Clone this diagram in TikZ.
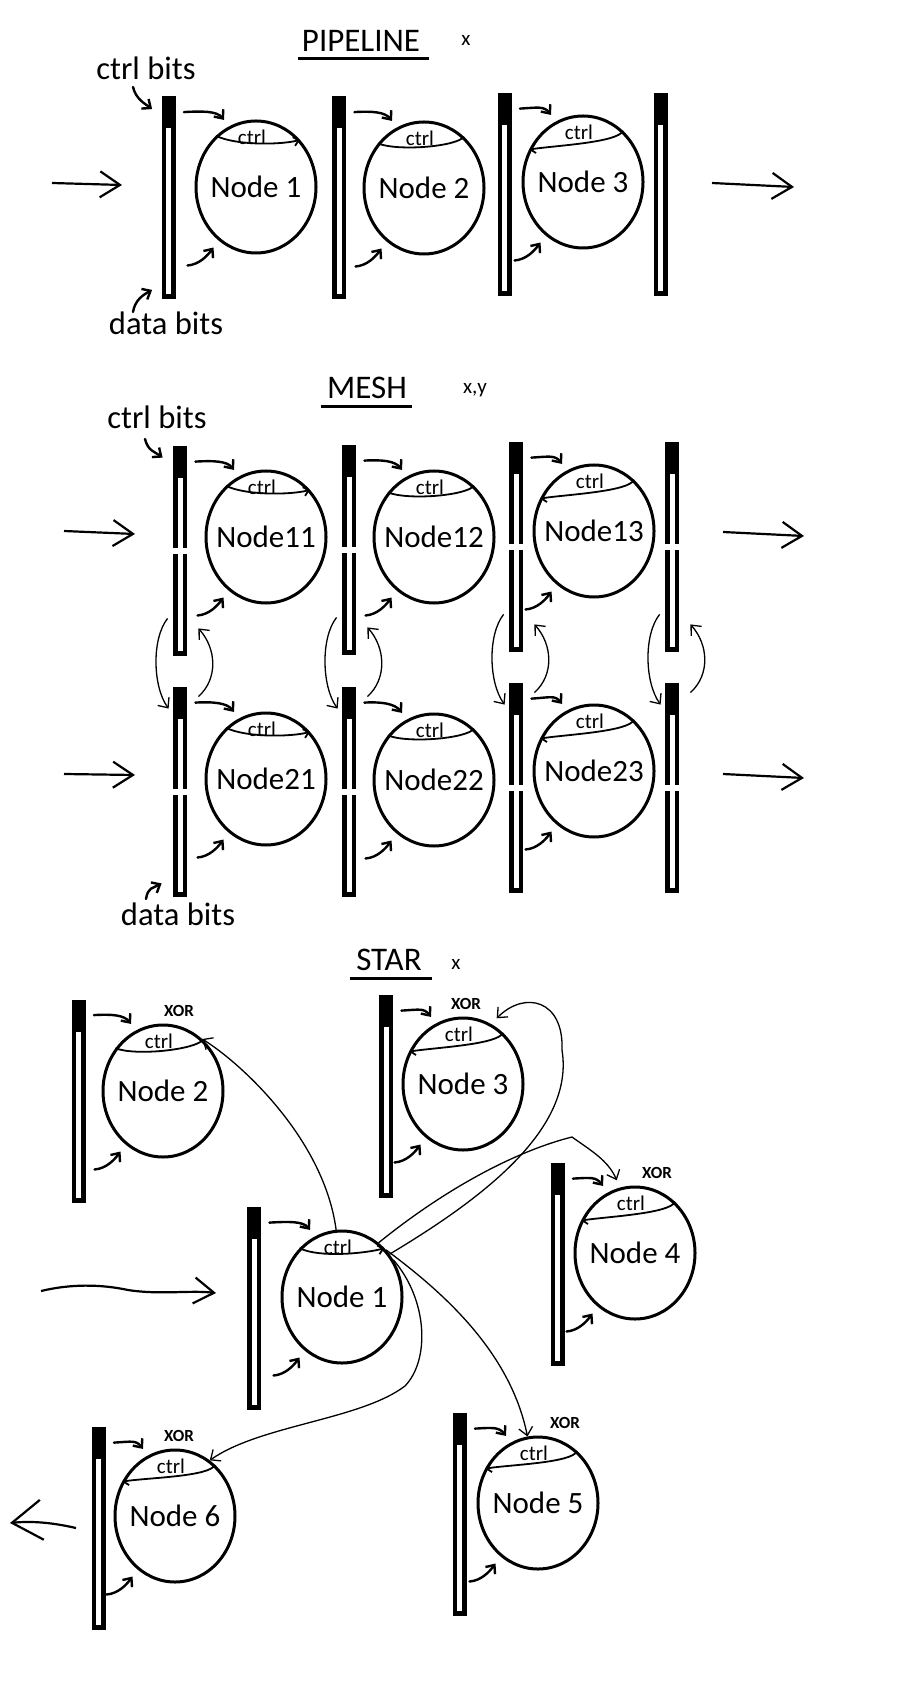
\documentclass[tikz,border=0pt]{standalone}
\usepackage{fontspec}
\setmainfont{Carlito}
\usetikzlibrary{shapes.geometric, arrows.meta}

\newcommand{\fsz}[1]{\fontsize{#1pt}{#1pt}\selectfont}
% one register bar + its node
\newcommand{\drawunit}[8]{%
  \node[#2] (#1b) at (#3) {};
  \node[unit] (#1) at (#4) {#5};
  \node[ctrltxt] (#1c) at ([shift={(-4,-50)}]#1.center) {ctrl};
  \draw[#8] (#1.#6) to (#1.#7);
  \draw[hand] ([shift={(8,16)}]#1b.north east) .. controls +(18,-1) and +(-7,-9) .. ([shift={(-4,-7)}]#1.115);
  \draw[hand] ([shift={(-31,25)}]#1.235) .. controls +(12,-1) and +(-6,8) .. ([shift={(-5,7)}]#1.235);
}

\tikzset{
  unit/.style={draw, ellipse, line width=1.5pt, minimum width=60pt, minimum height=66pt,
    inner xsep=-10pt, inner ysep=0pt, font=\fsz{15.5}},
  barbase/.style={fill=black, minimum width=7pt, inner sep=0pt},
  regbar/.style={barbase, minimum height=101.5pt,
    path picture={\fill[white] ([xshift=-1.25pt,yshift=2.5pt]path picture bounding box.south)
      rectangle ([xshift=1.25pt,yshift=-16pt]path picture bounding box.north);}},
  splitbar/.style={barbase, minimum height=105pt,
    path picture={\fill[white] ([xshift=-1.25pt,yshift=2.5pt]path picture bounding box.south)
      rectangle ([xshift=1.25pt,yshift=-16pt]path picture bounding box.north);
      \fill[white] ([yshift=-1.6pt]path picture bounding box.west)
      rectangle ([yshift=1.6pt]path picture bounding box.east);}},
  ctrltxt/.style={font=\fsz{10.5}, inner sep=0pt},
  title/.style={font=\fsz{16.5}, inner sep=1pt},
  note/.style={font=\fsz{16.3}, inner sep=0pt},
  coord/.style={font=\fsz{10.5}, inner sep=0pt},
  xorlbl/.style={font=\bfseries\fsz{8.5}, inner sep=0pt},
  hand/.style={line width=1.2pt, line cap=round, -{Straight Barb[length=3.5pt,width=6pt]}},
  wire/.style={line width=0.65pt, -{Straight Barb[length=4pt,width=7pt]}},
  flow/.style={line width=1.1pt, -{Straight Barb[length=10pt,width=13pt]}},
  ctrlR/.style={line width=0.9pt, -{Straight Barb[length=2.5pt,width=4.5pt]},
    to path={.. controls +(20,10) and +(-18,5) .. (\tikztotarget) \tikztonodes}},
  ctrlN/.style={line width=0.9pt, -,
    to path={.. controls +(20,8) and +(-8,10) .. (\tikztotarget) \tikztonodes}},
  ctrlL/.style={line width=0.9pt, -{Straight Barb[length=2.5pt,width=4.5pt]},
    to path={.. controls +(-5,12) and +(25,-4) .. (\tikztotarget) \tikztonodes}},
  underl/.style={line width=1.5pt}
}

\begin{document}
\begin{tikzpicture}[x=0.5pt, y=-0.5pt]
  \path[fill=white, use as bounding box] (0,0) rectangle (914,1689);

  % pipeline
  \node[title] (pipe) at (361,41) {PIPELINE};
  \draw[underl] ([shift={(-2,5)}]pipe.south west) -- ([shift={(7,5)}]pipe.south east);
  \node[coord] (pipex) at (466,40) {x};
  \drawunit{p1}{regbar}{168.5,198}{256,187}{Node 1}{128}{47}{ctrlR}
  \drawunit{p2}{regbar}{339,198}{424,188}{Node 2}{136}{52}{ctrlN}
  \drawunit{p3}{regbar}{504.5,194.5}{583,182}{Node 3}{52}{149}{ctrlL}
  \node[regbar] (p4b) at (660.5,194.5) {};
  \node[note] (pctl) at (146,68) {ctrl bits};
  \node[note] (pdat) at (166,323) {data bits};
  \draw[hand] ([shift={(-13,19)}]pctl.center) .. controls +(3,12) and +(-8,-6) .. ([shift={(-9,13)}]p1b.north west);
  \draw[hand] ([shift={(-33,-11)}]pdat.center) .. controls +(2,-12) and +(-9,5) .. ([shift={(-9,-10)}]p1b.south west);
  \coordinate (pin) at (52,183);
  \coordinate (pinE) at (122,185);
  \coordinate (pout) at (712,183);
  \coordinate (poutE) at (794,187);
  \draw[flow] (pin) -- (pinE);
  \draw[flow] (pout) -- (poutE);

  % mesh
  \node[title] (mesh) at (367,388) {MESH};
  \draw[underl] ([shift={(-4,5)}]mesh.south west) -- ([shift={(3,5)}]mesh.south east);
  \node[coord] (meshxy) at (475,390) {x,y};
  \drawunit{m11}{splitbar}{180,551}{266,537}{Node11}{128}{47}{ctrlR}
  \drawunit{m12}{splitbar}{349,550}{434,537}{Node12}{136}{52}{ctrlN}
  \drawunit{m13}{splitbar}{516,547}{594,531}{Node13}{52}{149}{ctrlL}
  \node[splitbar] (m14b) at (672,547) {};
  \drawunit{m21}{splitbar}{180,792}{266,779}{Node21}{128}{47}{ctrlR}
  \drawunit{m22}{splitbar}{349,792}{434,780}{Node22}{136}{52}{ctrlN}
  \drawunit{m23}{splitbar}{516,788}{594,771}{Node23}{52}{149}{ctrlL}
  \node[splitbar] (m24b) at (672,788) {};
  \foreach \c in {1,...,4}{
    \draw[wire] ([shift={(-5,-38)}]m1\c b.south west) .. controls +(-16,20) and +(-16,-22) .. ([shift={(-4,22)}]m2\c b.north west);
    \draw[wire] ([shift={(11,10)}]m2\c b.north east) .. controls +(20,-18) and +(18,20) .. ([shift={(11,-28)}]m1\c b.south east);
  }
  \node[note] (mctl) at (157,417) {ctrl bits};
  \node[note] (mdat) at (178,914) {data bits};
  \draw[hand] ([shift={(-12,22)}]mctl.center) .. controls +(3,12) and +(-8,-6) .. ([shift={(-10,12)}]m11b.north west);
  \draw[hand] ([shift={(-32,-15)}]mdat.center) .. controls +(2,-12) and +(-9,5) .. ([shift={(-11,-14)}]m21b.south west);
  \coordinate (min1) at (64,531);
  \coordinate (min1E) at (135,534);
  \coordinate (min2) at (64,774);
  \coordinate (min2E) at (135,775);
  \coordinate (mout1) at (723,532);
  \coordinate (mout1E) at (804,536);
  \coordinate (mout2) at (723,774);
  \coordinate (mout2E) at (804,778);
  \draw[flow] (min1) -- (min1E);
  \draw[flow] (min2) -- (min2E);
  \draw[flow] (mout1) -- (mout1E);
  \draw[flow] (mout2) -- (mout2E);

  % star
  \node[title] (star) at (389,960) {STAR};
  \draw[underl] ([shift={(-4,5)}]star.south west) -- ([shift={(8,5)}]star.south east);
  \node[coord] (starx) at (456,964) {x};
  \drawunit{s1}{regbar}{254,1308.5}{342,1297}{Node 1}{131}{49}{ctrlR}
  \drawunit{s2}{regbar}{78.5,1101}{163,1091}{Node 2}{138}{52}{ctrlN}
  \drawunit{s3}{regbar}{386,1096.5}{463,1084}{Node 3}{52}{149}{ctrlL}
  \drawunit{s4}{regbar}{557.5,1264.5}{635,1253}{Node 4}{52}{149}{ctrlL}
  \drawunit{s5}{regbar}{459.5,1514.5}{538,1503}{Node 5}{53}{147}{ctrlL}
  \drawunit{s6}{regbar}{98.5,1528.5}{175,1516}{Node 6}{52}{147}{ctrlL}
  \foreach \k/\dx in {2/16,3/3,4/22,5/27,6/4}
    \node[xorlbl] (s\k x) at ([shift={(\dx,-80)}]s\k.center) {XOR};
  \draw[wire] (s1.95) .. controls +(-12,-90) and +(40,25) .. (s2.53);
  \draw[wire, shorten >=4pt] (s1.56) .. controls (450,1185) and (520,1150) .. (572,1137)
    .. controls (590,1150) and (608,1160) .. (s4.103);
  \draw[wire, shorten >=4pt] (s1.42) .. controls (480,1200) and (575,1130) .. (562,1050)
    .. controls (564,1000) and (525,990) .. (s3.65);
  \draw[wire] (s1.47) .. controls (440,1290) and (510,1350) .. (s5.99);
  \draw[wire] (s1.36) .. controls (428,1300) and (430,1360) .. (405,1386)
    .. controls (360,1420) and (260,1425) .. (s6.58);
  \coordinate (sin) at (41,1291);
  \coordinate (sinE) at (216,1293);
  \coordinate (sout) at (76,1528);
  \coordinate (soutE) at (10,1523);
  \draw[flow] (sin) .. controls (70,1284) and (100,1284) .. (128,1290)
    .. controls (160,1295) and (190,1290) .. (sinE);
  \draw[flow, -{Straight Barb[length=15pt,width=20pt]}] (sout) .. controls (50,1522) and (30,1521) .. (soutE);
\end{tikzpicture}
\end{document}
